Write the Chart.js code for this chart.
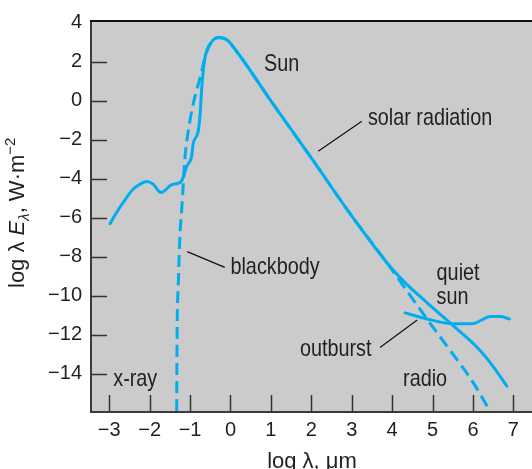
<!DOCTYPE html>
<html>
<head>
<meta charset="utf-8">
<script src="https://cdn.jsdelivr.net/npm/chart.js@4.4.0/dist/chart.umd.min.js"></script>
<style>
html,body{margin:0;padding:0;background:#fff;}
#wrap{width:532px;height:469px;}
</style>
</head>
<body>
<div id="wrap"><canvas id="c" width="532" height="469"></canvas></div>
<script>
// ---- data (log10 wavelength in µm, log10 λE_λ in W·m^-2) ----
const xTickValues = [-3, -2, -1, 0, 1, 2, 3, 4, 5, 6, 7];
const yTickValues = [-14, -12, -10, -8, -6, -4, -2, 0, 2, 4];

const solarX = [-2.98, -2.86, -2.65, -2.41, -2.24, -2.07, -1.91, -1.72, -1.46, -1.30, -1.21, -1.08, -0.96, -0.92, -0.80, -0.75, -0.71, -0.63, -0.51, -0.30, -0.09, 0.15, 1.0, 2.0, 3.0, 3.87, 4.28, 4.86, 5.51, 6.09, 6.50, 6.84];
const solarY = [-6.30, -5.87, -5.20, -4.53, -4.28, -4.14, -4.28, -4.70, -4.31, -4.23, -4.11, -3.35, -2.84, -2.17, -1.58, -0.66, 0.69, 2.21, 2.88, 3.25, 3.13, 2.54, 0.0, -2.93, -5.90, -8.30, -9.24, -10.34, -11.52, -12.61, -13.62, -14.63];

const blackbodyX = [-1.33, -1.32, -1.29, -1.25, -1.21, -1.17, -1.13, -1.04, -0.92, -0.75, -0.63, -0.51, -0.30, -0.09, 0.15, 1.0, 2.0, 3.0, 3.87, 4.86, 5.43, 6.01, 6.42];
const blackbodyY = [-15.9, -11.94, -9.41, -6.88, -5.71, -4.36, -3.02, -1.50, -0.15, 1.20, 2.21, 2.88, 3.25, 3.13, 2.54, 0.0, -2.93, -5.90, -8.30, -11.18, -12.78, -14.46, -15.9];

const outburstX = [4.32, 4.86, 5.51, 5.97, 6.22, 6.42, 6.67, 6.90];
const outburstY = [-10.87, -11.18, -11.43, -11.43, -11.23, -11.06, -11.06, -11.18];

// ---- annotation texts (anchor: left edge, baseline, in data units) ----
const noteTexts = ['Sun', 'solar radiation', 'blackbody', 'quiet', 'sun', 'outburst', 'radio', 'x-ray'];
const noteX = [0.83, 3.40, 0.00, 5.10, 5.10, 1.72, 4.27, -2.90];
const noteY = [1.51, -1.26, -8.89, -9.19, -10.39, -13.08, -14.60, -14.63];
// leader lines [x1, y1, x2, y2] in data units
const leaderSolar = [2.17, -2.59, 3.25, -1.05];
const leaderBlackbody = [-1.07, -7.73, -0.14, -8.54];
const leaderOutburst = [3.70, -12.64, 4.62, -11.23];

const xTitle = 'log λ, μm';

const toPts = (xs, ys) => xs.map((x, i) => ({x: x, y: ys[i]}));
const fmt = v => (v < 0 ? '\u2212' + Math.abs(v) : String(v));

const CYAN = '#00aeef';
const INK = '#231f20';
const FONT = 'Liberation Sans, Arial, sans-serif';

const deco = {
  id: 'deco',
  beforeDraw(chart) {
    const {ctx, chartArea: a} = chart;
    ctx.save();
    ctx.fillStyle = '#ffffff';
    ctx.fillRect(0, 0, chart.width, chart.height);
    ctx.fillStyle = '#cbcbcb';
    ctx.fillRect(a.left, a.top, a.right - a.left, a.bottom - a.top);
    ctx.restore();
  },
  afterDraw(chart) {
    const {ctx, chartArea: a} = chart;
    const sx = chart.scales.x, sy = chart.scales.y;
    const px = v => sx.getPixelForValue(v);
    const py = v => sy.getPixelForValue(v);
    ctx.save();
    // inside tick marks
    ctx.strokeStyle = '#333333';
    ctx.lineWidth = 1.5;
    ctx.beginPath();
    yTickValues.forEach(v => {
      if (v >= 4) return;
      const y = Math.round(py(v)) + 0.5;
      ctx.moveTo(a.left, y); ctx.lineTo(a.left + 16, y);
    });
    xTickValues.forEach(v => {
      const x = Math.round(px(v)) + 0.5;
      ctx.moveTo(x, a.bottom); ctx.lineTo(x, a.bottom - 17);
    });
    ctx.stroke();
    // frame
    ctx.lineWidth = 2;
    ctx.strokeStyle = '#3a3a3a';
    ctx.beginPath();
    ctx.moveTo(a.left, a.top); ctx.lineTo(a.left, a.bottom + 1);
    ctx.moveTo(a.left - 1, a.bottom); ctx.lineTo(a.right, a.bottom);
    ctx.stroke();
    ctx.strokeStyle = '#111111';
    ctx.beginPath();
    ctx.moveTo(a.left - 1, a.top); ctx.lineTo(a.right, a.top);
    ctx.stroke();
    // leader lines
    ctx.strokeStyle = '#111111';
    ctx.lineWidth = 1.2;
    [leaderSolar, leaderBlackbody, leaderOutburst].forEach(l => {
      ctx.beginPath();
      ctx.moveTo(px(l[0]), py(l[1]));
      ctx.lineTo(px(l[2]), py(l[3]));
      ctx.stroke();
    });
    // annotation text (narrow)
    ctx.fillStyle = INK;
    ctx.textBaseline = 'alphabetic';
    ctx.textAlign = 'left';
    ctx.font = '24px ' + FONT;
    noteTexts.forEach((t, i) => {
      ctx.save();
      ctx.translate(px(noteX[i]), py(noteY[i]));
      ctx.scale(0.825, 1);
      ctx.fillText(t, 0, 0);
      ctx.restore();
    });
    // x title
    ctx.font = '22px ' + FONT;
    ctx.textAlign = 'center';
    ctx.fillText(xTitle, (a.left + a.right) / 2 + 0.5, 468);
    // y title with subscript / superscript
    ctx.save();
    ctx.translate(24, 288);
    ctx.rotate(-Math.PI / 2);
    ctx.textAlign = 'left';
    let x = 0;
    const seg = (t, font, dy) => { ctx.font = font; ctx.fillText(t, x, dy); x += ctx.measureText(t).width; };
    seg('log λ ', '22px ' + FONT, 0);
    seg('E', 'italic 22px ' + FONT, 0);
    seg('λ', 'italic 15px ' + FONT, 5);
    seg(', W·m', '22px ' + FONT, 0);
    seg('\u22122', '15px ' + FONT, -9);
    ctx.restore();
    ctx.restore();
  }
};

new Chart(document.getElementById('c'), {
  type: 'scatter',
  data: {
    datasets: [
      {label: 'solar radiation', data: toPts(solarX, solarY), showLine: true, borderColor: CYAN, borderWidth: 3, pointRadius: 0, cubicInterpolationMode: 'monotone', borderJoinStyle: 'round', borderCapStyle: 'round', fill: false},
      {label: 'outburst', data: toPts(outburstX, outburstY), showLine: true, borderColor: CYAN, borderWidth: 3, pointRadius: 0, cubicInterpolationMode: 'monotone', borderCapStyle: 'round', fill: false},
      {label: 'blackbody', data: toPts(blackbodyX, blackbodyY), showLine: true, borderColor: CYAN, borderWidth: 3, borderDash: [12, 6], pointRadius: 0, cubicInterpolationMode: 'monotone', fill: false}
    ]
  },
  options: {
    responsive: false,
    animation: false,
    devicePixelRatio: 1,
    layout: {padding: {top: 16, left: 0, right: 0, bottom: 0}},
    plugins: {legend: {display: false}, tooltip: {enabled: false}},
    scales: {
      x: {
        type: 'linear', min: -3.45, max: 7.46,
        afterBuildTicks: s => { s.ticks = xTickValues.map(v => ({value: v})); },
        afterFit: s => { s.height = 57; },
        grid: {display: false, drawTicks: false},
        border: {display: false},
        ticks: {font: {family: FONT, size: 20}, color: INK, padding: 6, maxRotation: 0, autoSkip: false, callback: v => fmt(v)}
      },
      y: {
        type: 'linear', min: -15.95, max: 4.09,
        afterBuildTicks: s => { s.ticks = yTickValues.map(v => ({value: v})); },
        afterFit: s => { s.width = 91; },
        grid: {display: false, drawTicks: false},
        border: {display: false},
        ticks: {font: {family: FONT, size: 20}, color: INK, padding: 9, autoSkip: false, callback: v => fmt(v)}
      }
    }
  },
  plugins: [deco]
});
</script>
</body>
</html>
